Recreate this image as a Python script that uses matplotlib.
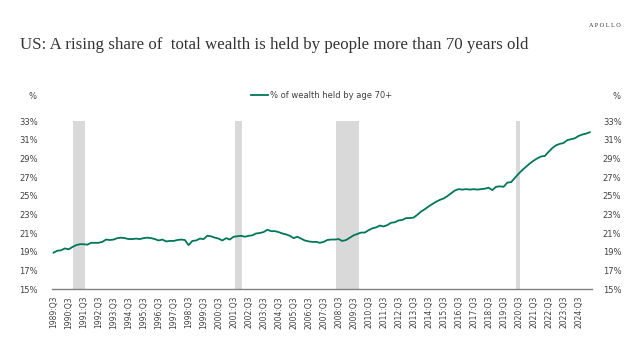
import matplotlib
matplotlib.use("Agg")
import matplotlib.pyplot as plt
import numpy as np

# Quarterly share of wealth held by age 70+ (%), 1989:Q3 .. 2025:Q2
first_year = 1989
first_quarter = 3
share_70plus = [
    18.9, 19.1,                      # 1989 Q3-Q4
    19.15, 19.35, 19.25, 19.5,       # 1990
    19.7, 19.8, 19.8, 19.75,         # 1991
    19.95, 19.95, 19.95, 20.05,      # 1992
    20.3, 20.25, 20.3, 20.45,        # 1993
    20.5, 20.45, 20.35, 20.35,       # 1994
    20.4, 20.35, 20.45, 20.5,        # 1995
    20.45, 20.35, 20.2, 20.3,        # 1996
    20.1, 20.15, 20.15, 20.25,       # 1997
    20.3, 20.25, 19.7, 20.15,        # 1998
    20.2, 20.4, 20.35, 20.7,         # 1999
    20.65, 20.5, 20.4, 20.2,         # 2000
    20.45, 20.3, 20.6, 20.65,        # 2001
    20.7, 20.6, 20.7, 20.75,         # 2002
    20.95, 21.0, 21.1, 21.35,        # 2003
    21.2, 21.2, 21.1, 20.95,         # 2004
    20.85, 20.7, 20.45, 20.6,        # 2005
    20.4, 20.2, 20.1, 20.05,         # 2006
    20.05, 19.95, 20.05, 20.25,      # 2007
    20.3, 20.3, 20.35, 20.15,        # 2008
    20.25, 20.5, 20.75, 20.9,        # 2009
    21.05, 21.05, 21.3, 21.5,        # 2010
    21.6, 21.8, 21.7, 21.85,         # 2011
    22.1, 22.15, 22.35, 22.4,        # 2012
    22.6, 22.6, 22.65, 22.95,        # 2013
    23.3, 23.55, 23.85, 24.1,        # 2014
    24.35, 24.55, 24.7, 24.95,       # 2015
    25.25, 25.55, 25.7, 25.65,       # 2016
    25.7, 25.65, 25.7, 25.65,        # 2017
    25.7, 25.75, 25.85, 25.6,        # 2018
    25.95, 26.0, 25.95, 26.4,        # 2019
    26.45, 26.9, 27.35, 27.75,       # 2020
    28.1, 28.45, 28.75, 29.0,        # 2021
    29.2, 29.25, 29.7, 30.1,         # 2022
    30.4, 30.55, 30.65, 30.95,       # 2023
    31.05, 31.15, 31.4, 31.55,       # 2024
    31.65, 31.8,                     # 2025 Q1-Q2
]

# Recession shading, as (start, end) in quarter index from 1989:Q3
recessions = [(5.3, 8.3), (48.5, 50.2), (75.4, 81.4), (123.4, 124.5)]

yticks = [15, 17, 19, 21, 23, 25, 27, 29, 31, 33]

# quarter labels
labels = []
for i in range(len(share_70plus)):
    q = first_quarter - 1 + i
    labels.append(f"{first_year + q // 4}:Q{q % 4 + 1}")

x = np.arange(len(share_70plus))
green = "#00775a"
txt = "#404040"

fig = plt.figure(figsize=(6.37, 3.58), dpi=100)
ax = fig.add_axes([0.0812, 0.1927, 0.8477, 0.4693])

for a, b in recessions:
    ax.axvspan(a, b, color="#d9d9d9", lw=0, zorder=0)

ax.plot(x, share_70plus, color=green, lw=1.3, zorder=3,
        label="% of wealth held by age 70+")

ax.set_xlim(-0.5, len(x) - 0.5)
ax.set_ylim(15, 33)
ax.set_yticks(yticks)
ax.set_yticklabels([f"{v}%" for v in yticks], fontsize=6, color=txt)

q3 = [i for i, l in enumerate(labels) if l.endswith("Q3") and int(l[:4]) <= 2024]
ax.set_xticks(q3)
ax.set_xticklabels([labels[i] for i in q3], rotation=90, fontsize=5.5, color=txt)
ax.tick_params(length=0, pad=5)
ax.tick_params(axis="y", pad=10)

for s in ["top", "left", "right"]:
    ax.spines[s].set_visible(False)
ax.spines["bottom"].set_color("#808080")
ax.spines["bottom"].set_linewidth(1.0)

ax2 = ax.twinx()
ax2.set_ylim(15, 33)
ax2.set_yticks(yticks)
ax2.set_yticklabels([f"{v}%" for v in yticks], fontsize=6, color=txt)
ax2.tick_params(length=0, pad=8)
for s in ["top", "left", "right", "bottom"]:
    ax2.spines[s].set_visible(False)

leg = ax.legend(loc="lower center", bbox_to_anchor=(0.5, 1.08), frameon=False,
                fontsize=6, handlelength=2.0, handletextpad=0.2)
for t in leg.get_texts():
    t.set_color(txt)

fig.text(0.045, 0.73, "%", fontsize=6, color=txt, ha="left", va="center")
fig.text(0.962, 0.73, "%", fontsize=6, color=txt, ha="left", va="center")

fig.text(0.031, 0.874, "US: A rising share of  total wealth is held by people more than 70 years old",
         fontsize=12.2, family="Liberation Serif", color="#333333", ha="left", va="center")
fig.text(0.975, 0.928, "A P O L L O", fontsize=4.5, family="Liberation Serif",
         color="#333333", ha="right", va="center")

fig.savefig("out.png", dpi=100)
